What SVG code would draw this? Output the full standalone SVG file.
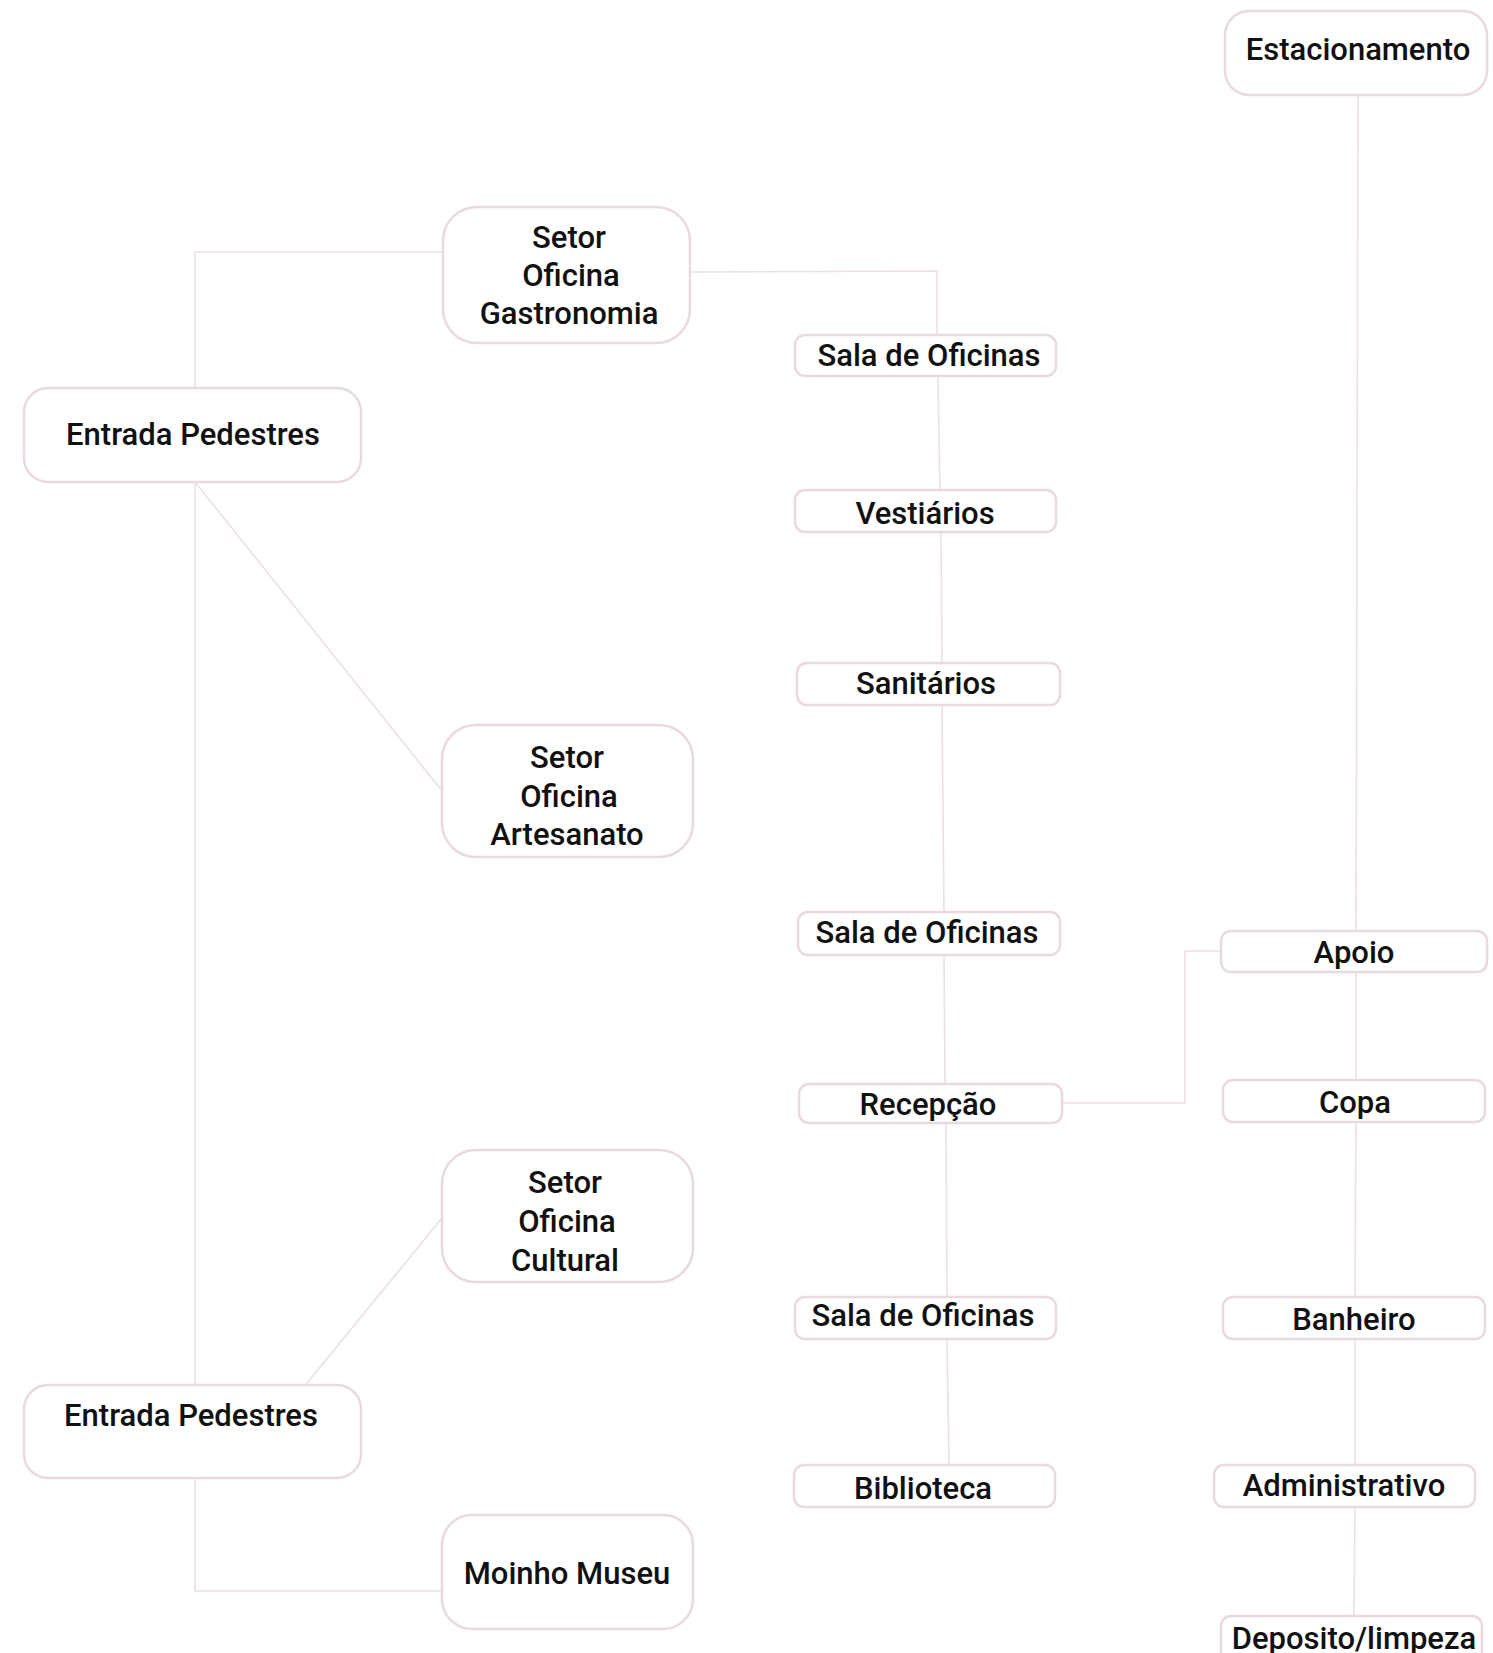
<svg xmlns="http://www.w3.org/2000/svg" width="1493" height="1653" viewBox="0 0 1493 1653">
<style>
.b{fill:#fff;stroke:#e8dadf;stroke-width:2.5}
.c{fill:none;stroke:#ebe0e3;stroke-width:1.6}
text{font-family:"Roboto","Liberation Sans",sans-serif;font-weight:500;font-size:31px;fill:#111;text-anchor:middle;dominant-baseline:central}
</style>
<rect width="1493" height="1653" fill="#fff"/>
<g id="connectors">
<polyline class="c" points="195,388 195,252 443,252"/>
<polyline class="c" points="690,272 937,271 937,335"/>
<line class="c" x1="938" y1="376" x2="940" y2="490"/>
<line class="c" x1="941" y1="532" x2="942" y2="663"/>
<line class="c" x1="942" y1="705" x2="944" y2="912"/>
<line class="c" x1="944" y1="955" x2="945" y2="1084"/>
<line class="c" x1="946" y1="1123" x2="947" y2="1297"/>
<line class="c" x1="947" y1="1339" x2="949" y2="1465"/>
<polyline class="c" points="1062,1103 1185,1103 1185,951 1221,951"/>
<line class="c" x1="1358" y1="95" x2="1356" y2="931"/>
<line class="c" x1="1356" y1="972" x2="1356" y2="1080"/>
<line class="c" x1="1356" y1="1122" x2="1355" y2="1297"/>
<line class="c" x1="1355" y1="1339" x2="1355" y2="1465"/>
<line class="c" x1="1355" y1="1507" x2="1354" y2="1616"/>
<line class="c" x1="195" y1="482" x2="442" y2="791"/>
<line class="c" x1="195" y1="482" x2="195" y2="1385"/>
<line class="c" x1="303" y1="1388" x2="442" y2="1218"/>
<polyline class="c" points="195,1478 195,1591 442,1591"/>
</g>
<g id="estacionamento"><rect class="b" x="1225" y="11" width="262" height="84" rx="24"/><text x="1358" y="49">Estacionamento</text></g>
<g id="gastronomia"><rect class="b" x="443" y="207" width="247" height="136" rx="34"/><text x="569" y="237">Setor</text><text x="571" y="275">Oficina</text><text x="569" y="313">Gastronomia</text></g>
<g id="entrada1"><rect class="b" x="24" y="388" width="337" height="94" rx="24"/><text x="193" y="434">Entrada Pedestres</text></g>
<g id="sala1"><rect class="b" x="795" y="335" width="261" height="41" rx="10"/><text x="929" y="355">Sala de Oficinas</text></g>
<g id="vestiarios"><rect class="b" x="795" y="490" width="261" height="42" rx="10"/><text x="925" y="513">Vestiários</text></g>
<g id="sanitarios"><rect class="b" x="797" y="663" width="263" height="42" rx="10"/><text x="926" y="683">Sanitários</text></g>
<g id="artesanato"><rect class="b" x="442" y="725" width="251" height="132" rx="34"/><text x="567" y="757">Setor</text><text x="569" y="796">Oficina</text><text x="567" y="834">Artesanato</text></g>
<g id="sala2"><rect class="b" x="798" y="912" width="262" height="43" rx="10"/><text x="927" y="932">Sala de Oficinas</text></g>
<g id="apoio"><rect class="b" x="1221" y="931" width="266" height="41" rx="10"/><text x="1354" y="952">Apoio</text></g>
<g id="recepcao"><rect class="b" x="799" y="1084" width="263" height="39" rx="10"/><text x="928" y="1104">Recepção</text></g>
<g id="copa"><rect class="b" x="1223" y="1080" width="262" height="42" rx="10"/><text x="1355" y="1102">Copa</text></g>
<g id="cultural"><rect class="b" x="442" y="1150" width="251" height="132" rx="34"/><text x="565" y="1182">Setor</text><text x="567" y="1221">Oficina</text><text x="565" y="1260">Cultural</text></g>
<g id="sala3"><rect class="b" x="795" y="1297" width="261" height="42" rx="10"/><text x="923" y="1315">Sala de Oficinas</text></g>
<g id="banheiro"><rect class="b" x="1223" y="1297" width="262" height="42" rx="10"/><text x="1354" y="1319">Banheiro</text></g>
<g id="entrada2"><rect class="b" x="24" y="1385" width="337" height="93" rx="24"/><text x="191" y="1415">Entrada Pedestres</text></g>
<g id="administrativo"><rect class="b" x="1214" y="1465" width="261" height="42" rx="10"/><text x="1344" y="1485">Administrativo</text></g>
<g id="biblioteca"><rect class="b" x="794" y="1465" width="261" height="42" rx="10"/><text x="923" y="1488">Biblioteca</text></g>
<g id="moinho"><rect class="b" x="442" y="1515" width="251" height="114" rx="30"/><text x="567" y="1573">Moinho Museu</text></g>
<g id="deposito"><rect class="b" x="1221" y="1616" width="261" height="60" rx="10"/><text x="1354" y="1638">Deposito/limpeza</text></g>
</svg>
